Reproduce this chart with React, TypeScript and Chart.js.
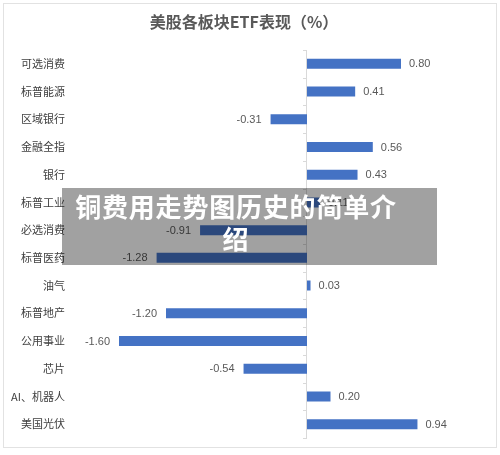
import React, { useEffect, useRef } from "react";
import { Chart, registerables } from "chart.js";

Chart.register(...registerables);

const TITLE = "美股各板块ETF表现（%）";
const categories = [
  "可选消费", "标普能源", "区域银行", "金融全指", "银行", "标普工业", "必选消费",
  "标普医药", "油气", "标普地产", "公用事业", "芯片", "AI、机器人", "美国光伏",
];
const values = [0.8, 0.41, -0.31, 0.56, 0.43, 0.11, -0.91, -1.28, 0.03, -1.2, -1.6, -0.54, 0.2, 0.94];
const X_MIN = -2;
const X_MAX = 1;
const OVERLAY_LINES = ["铜费用走势图历史的简单介", "绍"];

const BAR_COLOR = "#4472C4";

const axisAndLabels = {
  id: "axisAndLabels",
  beforeDatasetsDraw(chart: any) {
    const { ctx, chartArea, scales } = chart;
    const x0 = scales.x.getPixelForValue(0);
    ctx.save();
    // title
    ctx.font = "bold 16px 'Noto Sans CJK SC', sans-serif";
    ctx.fillStyle = "#595959";
    ctx.textAlign = "center";
    ctx.textBaseline = "middle";
    ctx.fillText(TITLE, 244, 22);
    // zero axis line with ticks
    ctx.strokeStyle = "#d9d9d9";
    ctx.lineWidth = 1;
    ctx.beginPath();
    ctx.moveTo(Math.round(x0) - 0.5, chartArea.top);
    ctx.lineTo(Math.round(x0) - 0.5, chartArea.bottom);
    const n = categories.length;
    const step = (chartArea.bottom - chartArea.top) / n;
    for (let i = 0; i <= n; i++) {
      const y = Math.round(chartArea.top + i * step) + 0.5;
      ctx.moveTo(Math.round(x0) - 4, y);
      ctx.lineTo(Math.round(x0), y);
    }
    ctx.stroke();
    ctx.restore();
  },
  afterDatasetsDraw(chart: any) {
    const { ctx } = chart;
    const meta = chart.getDatasetMeta(0);
    ctx.save();
    ctx.font = "11px 'Liberation Sans', Arial, sans-serif";
    ctx.fillStyle = "#595959";
    ctx.textBaseline = "middle";
    meta.data.forEach((bar: any, i: number) => {
      const v = values[i];
      const txt = v.toFixed(2);
      if (v >= 0) {
        ctx.textAlign = "left";
        ctx.fillText(txt, bar.x + 8, bar.y + 0.5);
      } else {
        ctx.textAlign = "right";
        ctx.fillText(txt, bar.x - 9, bar.y + 0.5);
      }
    });
    ctx.restore();
  },
};

export default function App() {
  const ref = useRef<HTMLCanvasElement>(null);
  useEffect(() => {
    if (!ref.current) return;
    const chart = new Chart(ref.current, {
      type: "bar",
      data: {
        labels: categories,
        datasets: [
          {
            data: values,
            backgroundColor: BAR_COLOR,
            borderWidth: 0,
            categoryPercentage: 1,
            barPercentage: 0.36,
          },
        ],
      },
      options: {
        indexAxis: "y",
        animation: false,
        responsive: false,
        maintainAspectRatio: false,
        layout: { padding: { left: 5, right: 75.5, top: 50, bottom: 17 } },
        plugins: {
          legend: { display: false },
          tooltip: { enabled: false },
          title: { display: false },
        },
        scales: {
          x: { type: "linear", min: X_MIN, max: X_MAX, display: false },
          y: {
            grid: { display: false, drawTicks: false },
            border: { display: false },
            ticks: {
              color: "#404040",
              padding: 7,
              font: { family: "'Noto Sans CJK SC', sans-serif", size: 11 },
            },
            afterFit: (scale: any) => {
              scale.width = 67;
            },
          },
        },
      },
      plugins: [axisAndLabels],
    });
    return () => chart.destroy();
  }, []);

  return (
    <div style={{ position: "fixed", left: 0, top: 0, width: 500, height: 455, background: "#fff", overflow: "hidden" }}>
      <div
        style={{
          position: "absolute",
          left: 3,
          top: 3,
          width: 492,
          height: 443,
          border: "1px solid #e2e2e2",
        }}
      />
      <canvas ref={ref} width={500} height={455} style={{ position: "absolute", left: 0, top: 0, width: 500, height: 455 }} />
      <div
        style={{
          position: "absolute",
          left: 62,
          top: 188,
          width: 375,
          height: 77,
          background: "rgba(0,0,0,0.37)",
        }}
      />
      <div
        style={{
          position: "absolute",
          left: 0,
          top: 190,
          width: 472,
          textAlign: "center",
          color: "#fff",
          fontFamily: "'Noto Sans CJK SC', sans-serif",
          fontWeight: "bold",
          fontSize: 26,
          lineHeight: "32px",
          letterSpacing: 0.8,
          whiteSpace: "nowrap",
        }}
      >
        {OVERLAY_LINES[0]}
        <br />
        {OVERLAY_LINES[1]}
      </div>
    </div>
  );
}
